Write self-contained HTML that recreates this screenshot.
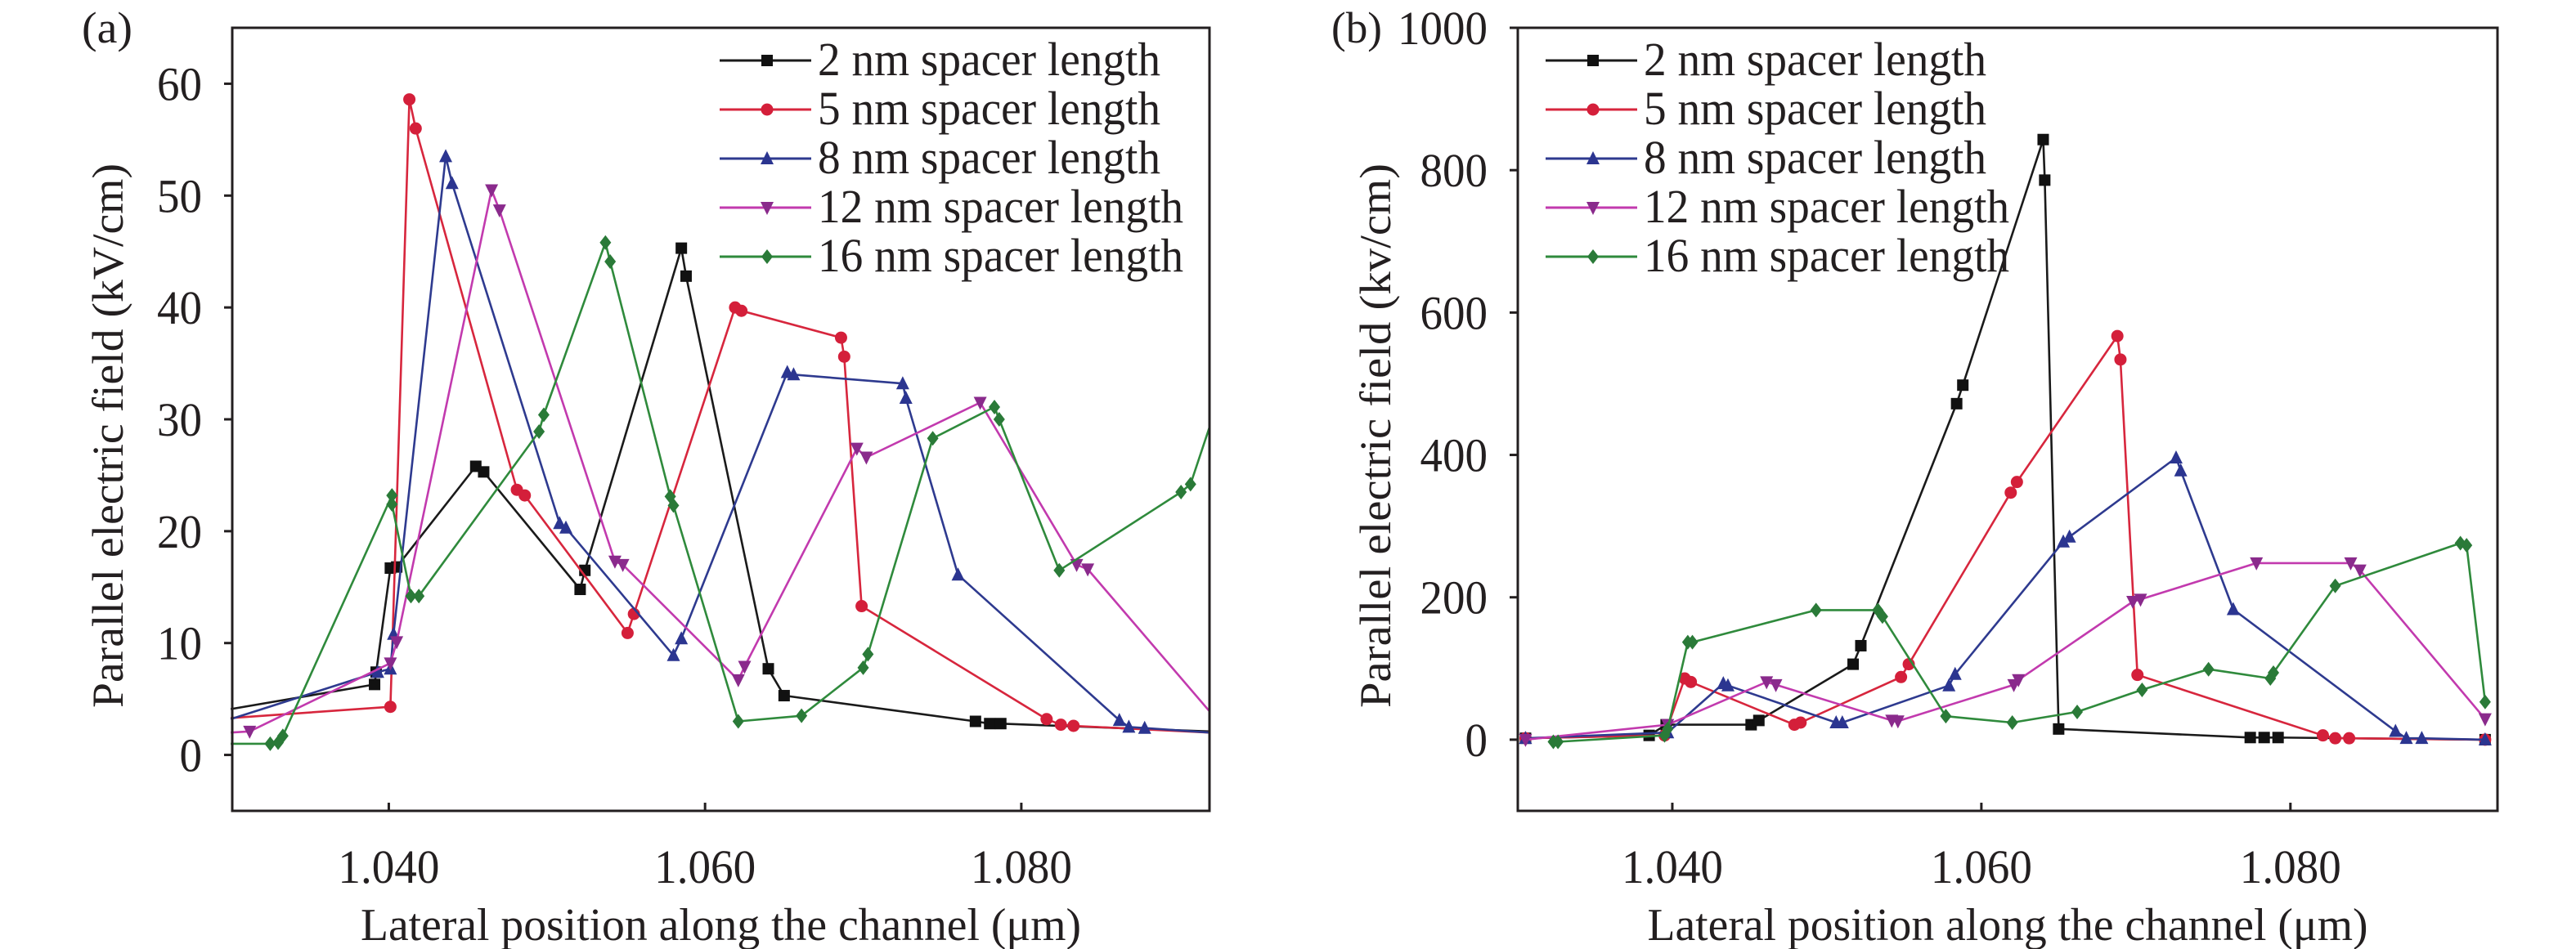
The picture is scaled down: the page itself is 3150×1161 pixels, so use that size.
<!DOCTYPE html>
<html><head><meta charset="utf-8"><style>
html,body{margin:0;padding:0;background:#fff}
svg{display:block}
text{font-family:"Liberation Serif","DejaVu Serif","Times New Roman",serif;fill:#231f20}
</style></head><body>
<svg id="fig" width="3150" height="1161" viewBox="0 0 3150 1161">
</svg>
<script>
// ---- Panel (a) data ----
const seriesNames=["2 nm spacer length","5 nm spacer length","8 nm spacer length","12 nm spacer length","16 nm spacer length"];
const aX2=[1.030,1.0391,1.0392,1.0401,1.0405,1.0455,1.046,1.0521,1.0524,1.0585,1.0588,1.064,1.065,1.0771,1.078,1.0787,1.0919];
const aY2=[4.1,6.3,7.4,16.7,16.8,25.8,25.3,14.8,16.5,45.3,42.8,7.7,5.3,3.0,2.8,2.8,2.1];
const aX5=[1.030,1.0401,1.0413,1.0417,1.0481,1.0486,1.0551,1.0555,1.0619,1.0623,1.0686,1.0688,1.0699,1.0816,1.0825,1.0833,1.0919];
const aY5=[3.3,4.3,58.6,56.0,23.7,23.2,10.9,12.6,40.0,39.7,37.3,35.6,13.3,3.2,2.7,2.6,2.0];
const aX8=[1.030,1.0393,1.0401,1.0403,1.0436,1.044,1.0508,1.0512,1.058,1.0585,1.0652,1.0656,1.0725,1.0727,1.076,1.0862,1.0868,1.0878,1.0919];
const aY8=[3.2,7.4,7.7,10.8,53.5,51.1,20.7,20.3,8.9,10.4,34.2,34.0,33.2,31.9,16.1,3.1,2.5,2.4,2.0];
const aX12=[1.030,1.0312,1.0401,1.0405,1.0465,1.047,1.0543,1.0548,1.0621,1.0625,1.0696,1.0702,1.0774,1.0835,1.0842,1.0919];
const aY12=[2.0,2.1,8.2,10.1,50.5,48.7,17.3,17.0,6.7,7.9,27.4,26.6,31.5,17.0,16.6,3.9];
const aX16=[1.030,1.0325,1.033,1.0333,1.0402,1.0402,1.0414,1.0419,1.0495,1.0498,1.0537,1.054,1.0578,1.058,1.0621,1.0661,1.070,1.0703,1.0744,1.0783,1.0786,1.0824,1.0901,1.0907,1.0919];
const aY16=[1.0,1.0,1.1,1.7,23.2,22.4,14.2,14.2,28.9,30.4,45.8,44.1,23.1,22.3,3.0,3.5,7.8,9.0,28.3,31.1,30.0,16.5,23.5,24.2,29.3];
// ---- Panel (b) data ----
const bX2=[1.0305,1.0385,1.0396,1.0451,1.0456,1.0517,1.0522,1.0584,1.0588,1.064,1.0641,1.065,1.0774,1.0783,1.0792,1.0926];
const bY2=[2,6,21,21,27,106,132,472,498,843,786,15,3,3,3,0];
const bX5=[1.0305,1.0395,1.0408,1.0412,1.0479,1.0483,1.0548,1.0553,1.0619,1.0623,1.0688,1.069,1.0701,1.0821,1.0829,1.0838,1.0926];
const bY5=[2,6,86,81,21,24,88,106,347,362,567,534,91,6,2,2,0];
const bX8=[1.0305,1.0397,1.0433,1.0436,1.0506,1.051,1.0579,1.0583,1.0653,1.0657,1.0726,1.0729,1.0763,1.0868,1.0875,1.0885,1.0926];
const bY8=[2,10,79,76,24,24,76,92,278,285,396,378,183,12,2,2,0];
const bX12=[1.0305,1.0397,1.0461,1.0467,1.0542,1.0546,1.0621,1.0624,1.0698,1.0703,1.0778,1.0839,1.0845,1.0926];
const bY12=[0,21,81,77,27,26,77,84,194,197,248,248,238,29];
const bX16=[1.0323,1.0326,1.0395,1.0397,1.041,1.0413,1.0493,1.0533,1.0536,1.0577,1.062,1.0662,1.0704,1.0747,1.0787,1.0789,1.0829,1.091,1.0914,1.0926];
const bY16=[-3,-3,6,15,137,137,182,182,173,33,24,39,70,99,86,94,216,276,273,53];
const xTicks=[1.040,1.060,1.080];
const xTickLabels=["1.040","1.060","1.080"];
const aYTicks=[0,10,20,30,40,50,60];
const bYTicks=[0,200,400,600,800,1000];

const colors=["#1a1a1a","#d7263d","#2e3a8f","#c23aae","#2f8a3c"];
const mColors=["#111","#d41f3a","#2b3590","#8a2a8c","#2a7a38"];
const markers=["square","circle","tri","tridown","diamond"];
const NS="http://www.w3.org/2000/svg";
const svg=document.getElementById('fig');
function mk(tag,attrs,parent){const e=document.createElementNS(NS,tag);for(const k in attrs)e.setAttribute(k,attrs[k]);(parent||svg).appendChild(e);return e;}
function fit(e,w){e.setAttribute('textLength',w);e.setAttribute('lengthAdjust','spacingAndGlyphs');}

function marker(g,type,x,y,c){
  let e;const s=7;
  if(type==="square")e=mk('rect',{x:x-s,y:y-s,width:2*s,height:2*s,fill:c},g);
  else if(type==="circle")e=mk('circle',{cx:x,cy:y,r:s+0.5,fill:c},g);
  else if(type==="tri")e=mk('polygon',{points:`${x},${y-s-2} ${x+s+1},${y+s} ${x-s-1},${y+s}`,fill:c},g);
  else if(type==="tridown")e=mk('polygon',{points:`${x},${y+s+2} ${x+s+1},${y-s} ${x-s-1},${y-s}`,fill:c},g);
  else e=mk('polygon',{points:`${x},${y-s-2} ${x+s},${y} ${x},${y+s+2} ${x-s},${y}`,fill:c},g);
  
  
}

function panel(cfg){
  const {L,R,T,B,xmin,xmax,ymin,ymax,yTicks,xs,ys,tag,ylabel,legX,endMarkers}=cfg;
  const sx=v=>L+(v-xmin)/(xmax-xmin)*(R-L);
  const sy=v=>B-(v-ymin)/(ymax-ymin)*(B-T);
  const g=mk('g',{});
  
  
  for(let i=0;i<xs.length;i++){
    const sg=mk('g',{},g);
    
    
    const pts=xs[i].map((v,j)=>sx(v).toFixed(1)+','+sy(ys[i][j]).toFixed(1)).join(' ');
    const pl=mk('polyline',{points:pts,fill:'none',stroke:colors[i],'stroke-width':2.6,'stroke-linejoin':'round'},sg);
    
    
    for(let j=0;j<xs[i].length;j++){
      if(j===0||j===xs[i].length-1){ if(!endMarkers)continue; }
      marker(sg,markers[i],sx(xs[i][j]),sy(ys[i][j]),mColors[i]);
    }
  }
  const fr=mk('rect',{x:L,y:T,width:R-L,height:B-T,fill:'none',stroke:'#231f20','stroke-width':3},g);
  
  
  yTicks.forEach(v=>{
    const y=sy(v);
    const t=mk('line',{x1:L,x2:L-10,y1:y,y2:y,stroke:'#231f20','stroke-width':3},g);
    
    
    const tx=mk('text',{x:L-37,y:y+20,'font-size':58,'text-anchor':'end'},g);
    tx.textContent=String(v);
    fit(tx,String(v).length*27.5);
    
    
  });
  xTicks.forEach((v,k)=>{
    const x=sx(v);
    const t=mk('line',{x1:x,x2:x,y1:B,y2:B-10,stroke:'#231f20','stroke-width':3},g);
    
    
    const tx=mk('text',{x:x,y:1080,'font-size':58,'text-anchor':'middle'},g);
    tx.textContent=xTickLabels[k];
    fit(tx,124);
    
    
  });
  const xt=mk('text',{x:(L+R)/2,y:1150,'font-size':56,'text-anchor':'middle'},g);
  xt.textContent='Lateral position along the channel (μm)';
  fit(xt,881);
  
  
  const yx=cfg.ylabX, yc=(T+B)/2+20;
  const yt=mk('text',{x:yx,y:yc,'font-size':54,'text-anchor':'middle',transform:`rotate(-90 ${yx} ${yc})`},g);
  yt.textContent=ylabel;
  fit(yt,666);
  
  
  const pt=mk('text',{x:cfg.tagX,y:52,'font-size':54},g);
  pt.textContent='('+tag+')';
  fit(pt,62);
  
  
  const lg=mk('g',{},g);
  
  
  const rows=[74,134,194,254,314];
  seriesNames.forEach((n,i)=>{
    const eg=mk('g',{},lg);
    
    
    const ln=mk('line',{x1:legX,x2:legX+112,y1:rows[i],y2:rows[i],stroke:colors[i],'stroke-width':3},eg);
    
    
    marker(eg,markers[i],legX+58,rows[i],mColors[i]);
    const tx=mk('text',{x:legX+120,y:rows[i]+18,'font-size':58},eg);
    tx.textContent=n;
    fit(tx,n.length>18?447:419);
    
    
  });
}
panel({L:284,R:1479,T:34,B:992,xmin:1.0301,xmax:1.0919,ymin:-5,ymax:65,yTicks:aYTicks,
  xs:[aX2,aX5,aX8,aX12,aX16],ys:[aY2,aY5,aY8,aY12,aY16],tag:'a',
  ylabel:'Parallel electric field (kV/cm)',ylabX:150,tagX:100,legX:880,endMarkers:false});
panel({L:1856,R:3054,T:34,B:992,xmin:1.0300,xmax:1.0934,ymin:-100,ymax:1000,yTicks:bYTicks,
  xs:[bX2,bX5,bX8,bX12,bX16],ys:[bY2,bY5,bY8,bY12,bY16],tag:'b',
  ylabel:'Parallel electric field (kv/cm)',ylabX:1700,tagX:1628,legX:1890,endMarkers:true});
</script>
</body></html>
